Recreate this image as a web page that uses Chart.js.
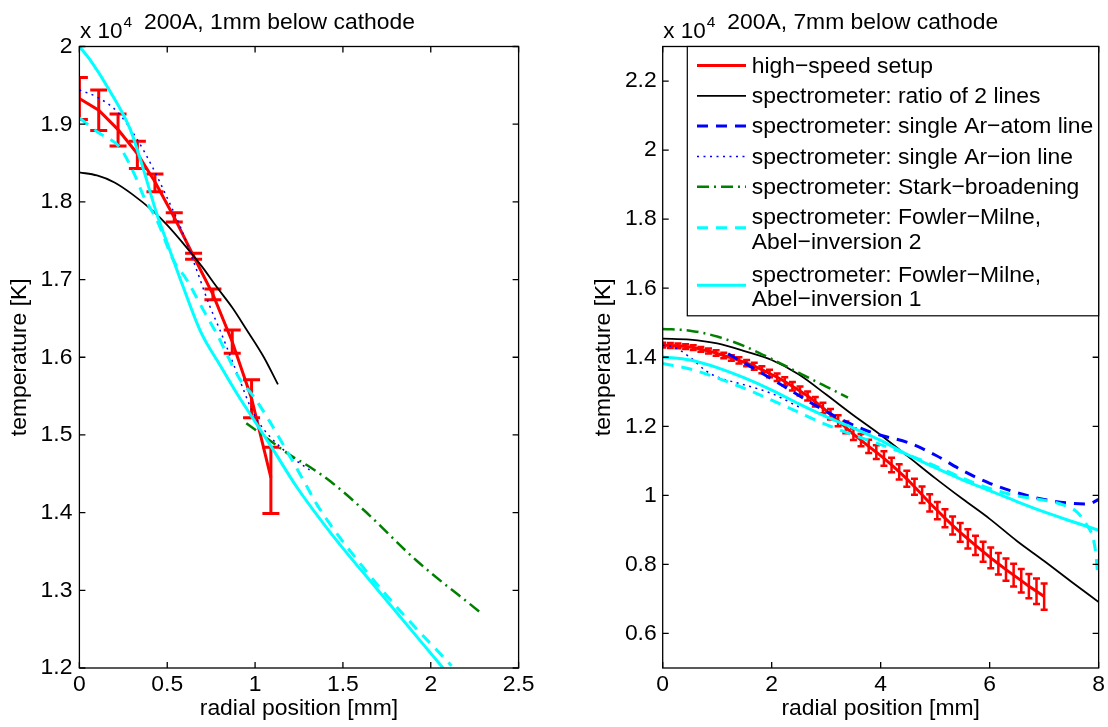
<!DOCTYPE html>
<html>
<head>
<meta charset="utf-8">
<script src="https://cdn.jsdelivr.net/npm/chart.js@4.4.0/dist/chart.umd.min.js"></script>
<style>
  body { margin: 0; background: #fff; width: 1108px; height: 727px; overflow: hidden; position: relative; }
  .wrap { position: absolute; top: 0; height: 727px; }
</style>
</head>
<body>
<div class="wrap" style="left:0;width:560px"><canvas id="left"></canvas></div>
<div class="wrap" style="left:570px;width:538px"><canvas id="right"></canvas></div>
<script>
// ---- tick labels ----
const xTicksL = [0, 0.5, 1, 1.5, 2, 2.5];
const yTicksL = [1.2, 1.3, 1.4, 1.5, 1.6, 1.7, 1.8, 1.9, 2];
const xTicksR = [0, 2, 4, 6, 8];
const yTicksR = [0.6, 0.8, 1, 1.2, 1.4, 1.6, 1.8, 2, 2.2];

const titleL = '200A, 1mm below cathode';
const titleR = '200A, 7mm below cathode';

const legendText = [
    ['high\u2212speed setup'],
    ['spectrometer: ratio of 2 lines'],
    ['spectrometer: single Ar\u2212atom line'],
    ['spectrometer: single Ar\u2212ion line'],
    ['spectrometer: Stark\u2212broadening'],
    ['spectrometer: Fowler\u2212Milne,', 'Abel\u2212inversion 2'],
    ['spectrometer: Fowler\u2212Milne,', 'Abel\u2212inversion 1'],
];

// ---- 1mm below cathode (values in 10^4 K) ----
const redXL  = [0, 0.11, 0.22, 0.33, 0.43, 0.54, 0.65, 0.76, 0.87, 0.98, 1.09];
const redYL  = [1.933, 1.918, 1.893, 1.862, 1.826, 1.780, 1.730, 1.681, 1.620, 1.547, 1.445];
const redLoL = [1.906, 1.892, 1.872, 1.843, 1.813, 1.774, 1.726, 1.674, 1.605, 1.522, 1.399];
const redHiL = [1.960, 1.944, 1.913, 1.878, 1.836, 1.786, 1.734, 1.688, 1.635, 1.571, 1.484];

const ratioXL = [0, 0.1, 0.2, 0.3, 0.42, 0.5, 0.6, 0.7, 0.78, 0.87, 0.95, 1.05, 1.13];
const ratioYL = [1.838, 1.834, 1.825, 1.810, 1.788, 1.770, 1.744, 1.716, 1.691, 1.664, 1.636, 1.600, 1.565];

const ionXL = [0, 0.1, 0.22, 0.33, 0.42, 0.5, 0.58, 0.66, 0.74, 0.8, 0.9, 0.99, 1.05, 1.18, 1.24, 1.31];
const ionYL = [1.944, 1.935, 1.915, 1.88, 1.843, 1.805, 1.765, 1.717, 1.667, 1.635, 1.578, 1.528, 1.507, 1.477, 1.466, 1.455];

const starkXL = [0.95, 1.12, 1.2, 1.31, 1.43, 1.62, 1.92, 2.28];
const starkYL = [1.515, 1.487, 1.474, 1.459, 1.44, 1.403, 1.338, 1.272];

const abel2XL = [0, 0.11, 0.23, 0.31, 0.37, 0.44, 0.535, 0.61, 0.705, 0.78, 0.915, 0.99, 1.076, 1.133, 1.237, 1.294, 1.353, 1.617, 1.844, 2.118];
const abel2YL = [1.908, 1.889, 1.87, 1.837, 1.805, 1.777, 1.725, 1.70, 1.661, 1.631, 1.571, 1.55, 1.52, 1.498, 1.457, 1.434, 1.41, 1.329, 1.269, 1.203];

const abel1XL = [0, 0.06, 0.17, 0.29, 0.36, 0.44, 0.5, 0.59, 0.69, 0.8, 0.9, 1.0, 1.1, 1.24, 1.43, 1.7, 2.07];
const abel1YL = [2.0, 1.983, 1.944, 1.893, 1.845, 1.785, 1.747, 1.691, 1.633, 1.59, 1.552, 1.517, 1.482, 1.432, 1.374, 1.30, 1.2];

// ---- 7mm below cathode (values in 10^4 K) ----
const redXR = [0, 0.14, 0.28, 0.42, 0.56, 0.7, 0.84, 0.98, 1.12, 1.26, 1.4, 1.54, 1.68, 1.82, 1.96, 2.1, 2.24,
    2.38, 2.52, 2.66, 2.8, 2.94, 3.08, 3.22, 3.36, 3.5, 3.64, 3.78, 3.92, 4.06, 4.2, 4.34, 4.48, 4.62, 4.76,
    4.9, 5.04, 5.18, 5.32, 5.46, 5.6, 5.74, 5.88, 6.02, 6.16, 6.3, 6.44, 6.58, 6.72, 6.86, 7.0];
const redYR = [1.435, 1.434, 1.433, 1.431, 1.428, 1.423, 1.418, 1.412, 1.405, 1.398,
    1.391, 1.383, 1.374, 1.364, 1.353, 1.342, 1.330, 1.316, 1.302, 1.288,
    1.271, 1.253, 1.235, 1.216, 1.197, 1.177, 1.160, 1.142, 1.125, 1.107,
    1.088, 1.068, 1.048, 1.025, 1.002, 0.978, 0.956, 0.934, 0.913, 0.893,
    0.874, 0.855, 0.837, 0.819, 0.802, 0.785, 0.769, 0.753, 0.737, 0.722, 0.707];
const redErrR = [0.007, 0.007, 0.007, 0.007, 0.007, 0.007, 0.007, 0.008, 0.008, 0.008,
    0.009, 0.009, 0.010, 0.010, 0.011, 0.011, 0.012, 0.012, 0.013, 0.013,
    0.014, 0.015, 0.015, 0.016, 0.017, 0.017, 0.018, 0.019, 0.020, 0.021,
    0.021, 0.022, 0.023, 0.023, 0.024, 0.025, 0.025, 0.026, 0.026, 0.027,
    0.028, 0.028, 0.029, 0.030, 0.031, 0.032, 0.033, 0.034, 0.035, 0.037, 0.038];

const ratioXR = [0, 0.5, 1, 1.5, 2, 2.5, 3, 3.5, 4, 4.5, 5, 5.5, 6, 6.5, 7, 7.5, 8];
const ratioYR = [1.454, 1.451, 1.440, 1.418, 1.392, 1.350, 1.292, 1.232, 1.175, 1.113, 1.05, 0.99, 0.932, 0.868, 0.81, 0.75, 0.691];

const atomXR = [1.2, 1.7, 2.2, 2.7, 3.2, 3.7, 4.0, 4.5, 5.0, 5.5, 6.0, 6.5, 7.0, 7.5, 7.8, 8.0];
const atomYR = [1.41, 1.365, 1.318, 1.27, 1.226, 1.19, 1.174, 1.153, 1.117, 1.072, 1.035, 1.008, 0.988, 0.977, 0.975, 0.988];

const ionXR = [0, 0.2, 0.5, 0.8, 1.0, 1.5, 2.0, 2.5];
const ionYR = [1.435, 1.43, 1.40, 1.36, 1.343, 1.32, 1.295, 1.256];

const starkXR = [0, 0.5, 1.0, 1.5, 2.0, 2.5, 3.0, 3.4];
const starkYR = [1.482, 1.477, 1.460, 1.432, 1.395, 1.355, 1.315, 1.283];

const abel2XR = [0, 0.5, 1, 1.5, 2, 2.5, 3, 3.5, 4, 4.5, 5, 5.5, 6, 6.5, 7, 7.3, 7.6, 7.8, 7.88, 7.95, 7.98];
const abel2YR = [1.382, 1.366, 1.34, 1.31, 1.276, 1.24, 1.205, 1.175, 1.147, 1.118, 1.085, 1.05, 1.02, 0.999, 0.986, 0.975, 0.952, 0.91, 0.885, 0.83, 0.775];

const abel1XR = [0, 0.5, 1, 1.5, 2, 2.5, 3, 3.5, 4, 4.5, 5, 5.5, 6, 6.5, 7, 7.5, 8];
const abel1YR = [1.401, 1.392, 1.37, 1.34, 1.305, 1.265, 1.228, 1.195, 1.159, 1.117, 1.08, 1.045, 1.014, 0.982, 0.952, 0.925, 0.899];

// ---- styles, same order as the legend ----
const styles = [
    { color: '#ff0000', width: 3,   dash: [],            smooth: false },
    { color: '#000000', width: 1.8, dash: [],            smooth: true },
    { color: '#0000ff', width: 3,   dash: [11, 8],       smooth: true },
    { color: '#0000ff', width: 1.5, dash: [2, 4.5],      smooth: true },
    { color: '#008000', width: 2.5, dash: [12, 5, 2, 5], smooth: true },
    { color: '#00ffff', width: 3,   dash: [11, 8],       smooth: true },
    { color: '#00ffff', width: 3,   dash: [],            smooth: true },
];

const FONT = 22.9;
Chart.defaults.font.family = "'Liberation Sans', Arial, sans-serif";
Chart.defaults.font.size = FONT;
Chart.defaults.color = '#000';

const fmt = v => String(Math.round(v * 100) / 100);

function line(xs, ys, k, extra) {
    const st = styles[k];
    return Object.assign({
        data: xs.map((x, i) => ({ x: x, y: ys[i] })),
        borderColor: st.color,
        backgroundColor: st.color,
        borderWidth: st.width,
        borderDash: st.dash,
        pointRadius: 0,
        pointHoverRadius: 0,
        showLine: true,
        fill: false,
        cubicInterpolationMode: st.smooth ? 'monotone' : 'default',
        order: 6 - k,   // later series drawn on top, like matlab
    }, extra || {});
}

// vertical error bars for datasets that carry errLo / errHi
const errorBars = {
    id: 'errorBars',
    afterDatasetDraw(chart, args) {
        const ds = chart.data.datasets[args.index];
        if (!ds.errLo) return;
        const { ctx, chartArea: a, scales: { x, y } } = chart;
        ctx.save();
        ctx.beginPath();
        ctx.rect(a.left, a.top, a.right - a.left, a.bottom - a.top);
        ctx.clip();
        ctx.strokeStyle = ds.borderColor;
        ctx.lineWidth = ds.errWidth;
        ctx.setLineDash([]);
        const c = ds.capHalf;
        ds.data.forEach((p, i) => {
            const px = x.getPixelForValue(p.x);
            const lo = y.getPixelForValue(ds.errLo[i]);
            const hi = y.getPixelForValue(ds.errHi[i]);
            ctx.beginPath();
            ctx.moveTo(px, lo); ctx.lineTo(px, hi);
            ctx.moveTo(px - c, lo); ctx.lineTo(px + c, lo);
            ctx.moveTo(px - c, hi); ctx.lineTo(px + c, hi);
            ctx.stroke();
        });
        ctx.restore();
    }
};

// matlab style box, inward ticks, legend, title and x10^4 label
const mlFrame = {
    id: 'mlFrame',
    afterDatasetsDraw(chart) {
        const { ctx, chartArea: a, scales: { x, y } } = chart;
        ctx.save();
        ctx.strokeStyle = '#000';
        ctx.lineWidth = 1.3;
        ctx.setLineDash([]);
        ctx.beginPath();
        for (const t of x.ticks) {
            const p = x.getPixelForValue(t.value);
            ctx.moveTo(p, a.bottom); ctx.lineTo(p, a.bottom - 6);
            ctx.moveTo(p, a.top); ctx.lineTo(p, a.top + 6);
        }
        for (const t of y.ticks) {
            const p = y.getPixelForValue(t.value);
            ctx.moveTo(a.left, p); ctx.lineTo(a.left + 6, p);
            ctx.moveTo(a.right, p); ctx.lineTo(a.right - 6, p);
        }
        ctx.stroke();
        ctx.strokeRect(a.left, a.top, a.right - a.left, a.bottom - a.top);
        ctx.restore();
    },
    afterDraw(chart, args, opts) {
        const { ctx, chartArea: a } = chart;
        const fam = "'Liberation Sans', Arial, sans-serif";
        ctx.save();
        ctx.fillStyle = '#000';
        ctx.textAlign = 'left';
        ctx.textBaseline = 'alphabetic';
        ctx.font = FONT + 'px ' + fam;
        ctx.fillText(opts.title, a.left + 64.5, 29.3);
        ctx.font = '22.5px ' + fam;
        ctx.fillText('x 10', a.left + 0.6, 37.5);
        const w = ctx.measureText('x 10').width;
        ctx.font = '15.5px ' + fam;
        ctx.fillText('4', a.left + 1.6 + w, 26.5);

        if (opts.legend) {
            const bx = a.left + 24.6, by = a.top, bw = a.right - bx;
            let yy = 19, lastLine = 0;
            const rows = legendText.map(lines => {
                const r = { y: yy, lines: lines };
                lastLine = yy + (lines.length - 1) * 24.5;
                yy += 30.3 + (lines.length - 1) * 27.3;
                return r;
            });
            const bh = lastLine + 16.7;
            ctx.fillStyle = '#fff';
            ctx.fillRect(bx, by, bw, bh);
            ctx.strokeStyle = '#000';
            ctx.lineWidth = 1.2;
            ctx.strokeRect(bx, by, bw, bh);
            rows.forEach((r, k) => {
                const st = styles[k];
                const sy = by + r.y + (r.lines.length - 1) * 24.5 / 2 + (r.lines.length > 1 ? -1.5 : 0);
                ctx.strokeStyle = st.color;
                ctx.lineWidth = st.width;
                ctx.setLineDash(st.dash);
                ctx.beginPath();
                ctx.moveTo(bx + 9.7, sy); ctx.lineTo(bx + 58.7, sy);
                ctx.stroke();
                ctx.setLineDash([]);
                ctx.fillStyle = '#000';
                ctx.font = FONT + 'px ' + fam;
                ctx.textBaseline = 'middle';
                r.lines.forEach((t, j) => ctx.fillText(t, bx + 64.4, by + r.y + j * 24.5 + 1));
            });
        }
        ctx.restore();
    }
};

function makeChart(id, c) {
    return new Chart(document.getElementById(id), {
        type: 'scatter',
        data: { datasets: c.datasets },
        options: {
            responsive: true,
            maintainAspectRatio: false,
            animation: false,
            layout: { padding: c.padding },
            plugins: {
                legend: { display: false },
                tooltip: { enabled: false },
                mlFrame: { title: c.title, legend: c.legend },
            },
            scales: {
                x: {
                    type: 'linear', min: c.xMin, max: c.xMax,
                    afterBuildTicks: s => { s.ticks = c.xTicks.map(v => ({ value: v })); },
                    afterFit: s => { s.height = 59; },
                    grid: { display: false, drawTicks: false },
                    border: { display: false },
                    ticks: { padding: 3, maxRotation: 0, autoSkip: false, callback: fmt },
                    title: { display: true, text: 'radial position [mm]', padding: { top: 0, bottom: 6.5 },
                             font: { size: FONT, lineHeight: 1 } },
                },
                y: {
                    type: 'linear', min: c.yMin, max: c.yMax,
                    afterBuildTicks: s => { s.ticks = c.yTicks.map(v => ({ value: v })); },
                    afterFit: s => { s.width = c.yWidth; },
                    grid: { display: false, drawTicks: false },
                    border: { display: false },
                    ticks: { padding: c.yPad, autoSkip: false, callback: fmt },
                    title: { display: true, text: 'temperature [K]', padding: { top: c.yTitlePad, bottom: 0 },
                             font: { size: FONT, lineHeight: 1 } },
                },
            },
        },
        plugins: [errorBars, mlFrame],
    });
}

makeChart('left', {
    title: titleL, legend: false,
    padding: { top: 46.5, right: 41.4, left: 0, bottom: 0 },
    xMin: 0, xMax: 2.5, xTicks: xTicksL,
    yMin: 1.2, yMax: 2.0, yTicks: yTicksL,
    yWidth: 79.4, yPad: 7, yTitlePad: 8.5,
    datasets: [
        line(redXL, redYL, 0, { errLo: redLoL, errHi: redHiL, capHalf: 8.5, errWidth: 3 }),
        line(ratioXL, ratioYL, 1),
        line(ionXL, ionYL, 3),
        line(starkXL, starkYL, 4),
        line(abel2XL, abel2YL, 5),
        line(abel1XL, abel1YL, 6),
    ],
});

makeChart('right', {
    title: titleR, legend: true,
    padding: { top: 46.5, right: 6.3, left: 0, bottom: 0 },
    xMin: 0, xMax: 8, xTicks: xTicksR,
    yMin: 0.5, yMax: 2.3, yTicks: yTicksR,
    yWidth: 92.7, yPad: 6, yTitlePad: 21.75,
    datasets: [
        line(redXR, redYR, 0, {
            errLo: redYR.map((v, i) => v - redErrR[i]),
            errHi: redYR.map((v, i) => v + redErrR[i]),
            capHalf: 3.5, errWidth: 2.5,
        }),
        line(ratioXR, ratioYR, 1),
        line(atomXR, atomYR, 2),
        line(ionXR, ionYR, 3),
        line(starkXR, starkYR, 4),
        line(abel2XR, abel2YR, 5),
        line(abel1XR, abel1YR, 6),
    ],
});
</script>
</body>
</html>
